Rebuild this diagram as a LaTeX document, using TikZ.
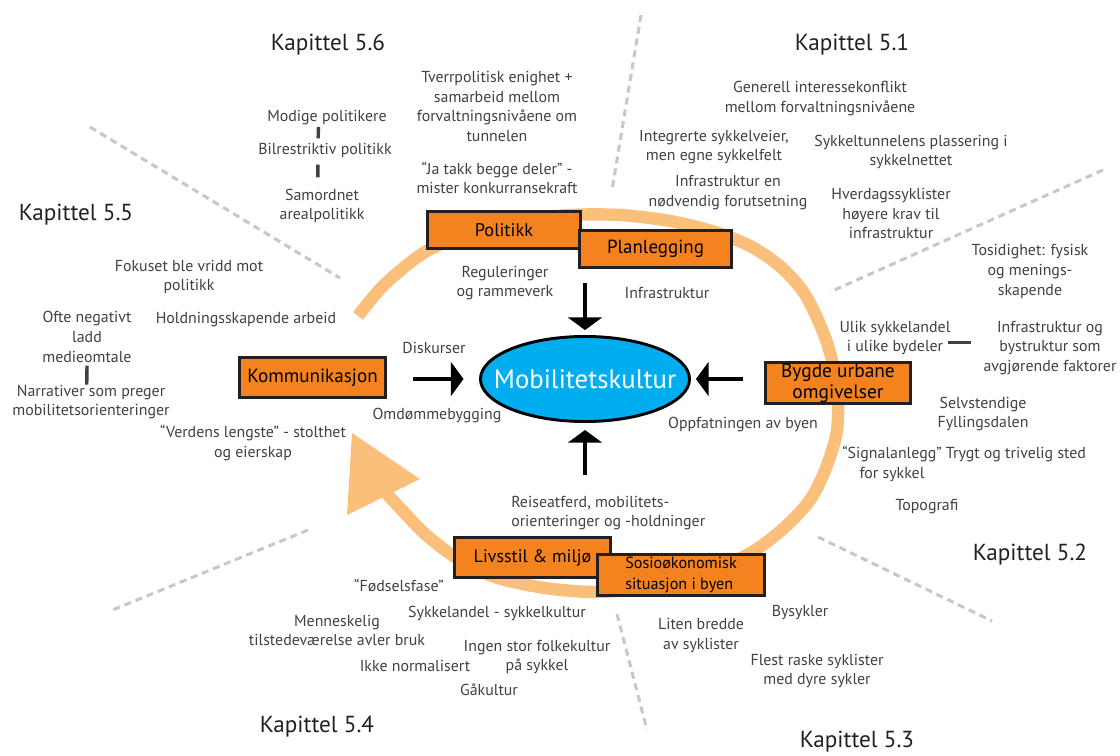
\documentclass[tikz,border=0pt]{standalone}
\usepackage{fontspec}
\setmainfont{PT Sans}
\usetikzlibrary{arrows.meta,shapes.geometric}
\definecolor{boxorange}{HTML}{F3821F}
\definecolor{ringorange}{HTML}{FBBF7C}
\definecolor{mobblue}{HTML}{00AEEF}
\definecolor{txtgrey}{HTML}{414042}
\definecolor{sepgrey}{HTML}{C8C8C8}
\definecolor{kapblack}{HTML}{231F20}

\begin{document}
\begin{tikzpicture}[x=0.025cm, y=-0.025cm]
        \tikzstyle{kap_label} = [font=\fontsize{16.5}{20}\selectfont, text=kapblack, inner sep=0pt]
        \tikzstyle{txt_label} = [font=\fontsize{11.3}{14}\selectfont, text=txtgrey, align=center, inner sep=0pt]
        \tikzstyle{box_node}  = [draw=kapblack, line width=2.1pt, fill=boxorange, text=black, inner sep=0pt, align=center]
        \tikzstyle{mob_node}  = [ellipse, draw=black, line width=2.1pt, fill=mobblue, inner sep=0pt,
                                 minimum width=5.225cm, minimum height=2.125cm]
        \tikzstyle{mob_text}  = [text=white, inner sep=0pt, font=\fontsize{19}{23}\selectfont]
        \tikzstyle{sep_line}  = [draw=sepgrey, line width=2.2pt, dash pattern=on 5pt off 3.5pt]
        \tikzstyle{ring_line} = [draw=ringorange, line width=8.8pt]
        \tikzstyle{flow}      = [-{Triangle[width=24pt, length=9pt]}, line width=2.2pt, draw=black]
        \tikzstyle{bar}       = [draw=txtgrey, line width=2.4pt]

        \useasboundingbox (0,0) rectangle (1120,756);

        % the cycle round the centre
        \draw[ring_line] plot[smooth] coordinates {(358,316) (385,284) (425,252) (470,233) (520,221) (570,215)
          (620,215) (670,221) (715,232) (752,247) (782,268) (806,296) (826,340) (837,385) (837,430) (826,468)
          (810,500) (785,527) (757,549) (725,566) (690,579) (645,588) (595,592) (545,588) (495,577) (455,557)
          (424,533) (400,508) (385,492)};
        \fill[ringorange] (352,433) -- (420,479) -- (347,515) -- cycle;

        % chapter borders
        \draw[sep_line] (641,15)   -- (612,190);
        \draw[sep_line] (90,127)   -- (340,278);
        \draw[sep_line] (1103,170) -- (830,292);
        \draw[sep_line] (818,537)  -- (992,621);
        \draw[sep_line] (308,530)  -- (110,611);
        \draw[sep_line] (617,614)  -- (647,730);

        \node[kap_label] at (328,  45) (k56) {Kapittel 5.6};
        \node[kap_label] at (852,  45) (k51) {Kapittel 5.1};
        \node[kap_label] at (76,  215) (k55) {Kapittel 5.5};
        \node[kap_label] at (1030,555) (k52) {Kapittel 5.2};
        \node[kap_label] at (857, 742) (k53) {Kapittel 5.3};
        \node[kap_label] at (317, 727) (k54) {Kapittel 5.4};

        % boxes
        \node[box_node, minimum width=3.825cm, minimum height=0.925cm, font=\fontsize{13}{15}\selectfont]
              at (504,230) (b_pol) {Politikk};
        \node[box_node, minimum width=3.8cm, minimum height=0.925cm, font=\fontsize{13.5}{15}\selectfont]
              at (655.5,249) (b_plan) {Planlegging};
        \node[box_node, minimum width=3.65cm, minimum height=1.0cm, font=\fontsize{13.6}{15}\selectfont]
              at (312.5,377.5) (b_kom) {Kommunikasjon};
        \node[box_node, minimum width=3.625cm, minimum height=1.025cm, font=\fontsize{13.8}{15}\selectfont]
              at (838,383) (b_bygd) {Bygde urbane\\omgivelser};
        \node[box_node, minimum width=3.9cm, minimum height=1.0cm, font=\fontsize{12.8}{15}\selectfont]
              at (532.5,557.5) (b_liv) {Livsstil \& miljø};
        \node[box_node, minimum width=4.175cm, minimum height=1.025cm, font=\fontsize{11.5}{14.5}\selectfont, align=left]
              at (681,575) (b_sosio) {Sosioøkonomisk\\situasjon i byen};

        \node[mob_node, label={[mob_text]center:Mobilitetskultur}] at (585,379) (mob) {};

        \coordinate (a_top)   at (585,283);
        \coordinate (a_bot)   at (585,475);
        \coordinate (a_left)  at (413,379);
        \coordinate (a_right) at (743,379);

        \draw[flow, shorten >=3.5pt] (a_top)   -- (mob);
        \draw[flow, shorten >=5pt]   (a_bot)   -- (mob);
        \draw[flow, shorten >=11pt]  (a_left)  -- (mob);
        \draw[flow, shorten >=3.5pt] (a_right) -- (mob);

        % labels round the centre
        \node[txt_label] at (505, 283) (t_regul) {Reguleringer\\og rammeverk};
        \node[txt_label] at (667, 293) (t_infra) {Infrastruktur};
        \node[txt_label] at (434, 348) (t_disk)  {Diskurser};
        \node[txt_label] at (437, 416) (t_omd)   {Omdømmebygging};
        \node[txt_label] at (743, 425) (t_oppf)  {Oppfatningen av byen};
        \node[txt_label, align=left, anchor=west] at (511, 513) (t_reise) {Reiseatferd, mobilitets-\\orienteringer og -holdninger};

        % kapittel 5.6
        \node[txt_label] at (327, 118) (t_modige)  {Modige politikere};
        \node[txt_label] at (325, 150) (t_bilr)    {Bilrestriktiv politikk};
        \node[txt_label] at (322, 206) (t_samord)  {Samordnet\\arealpolitikk};
        \node[txt_label] at (497, 106.5) (t_tverr) {Tverrpolitisk enighet +\\samarbeid mellom\\forvaltningsnivåene om\\tunnelen};
        \node[txt_label] at (497, 178) (t_jatakk)  {“Ja takk begge deler” -\\mister konkurransekraft};

        \draw[bar, shorten <=1pt, shorten >=3pt] ([xshift=-6pt]t_modige.south) -- ([xshift=-5pt]t_bilr.north);
        \draw[bar, shorten <=5pt, shorten >=8pt] ([xshift=-5pt]t_bilr.south)   -- ([xshift=-3pt]t_samord.north);

        % kapittel 5.1
        \node[txt_label] at (820,  98.5) (t_generell) {Generell interessekonflikt\\mellom forvaltningsnivåene};
        \node[txt_label] at (714, 147)   (t_integr)   {Integrerte sykkelveier,\\men egne sykkelfelt};
        \node[txt_label] at (911, 152)   (t_tunnel)   {Sykkeltunnelens plassering i\\sykkelnettet};
        \node[txt_label] at (728, 192.5) (t_infnodv)  {Infrastruktur en\\nødvendig forutsetning};
        \node[txt_label] at (891, 213.5) (t_hverdag)  {Hverdagssyklister\\høyere krav til\\infrastruktur};

        % kapittel 5.2
        \node[txt_label] at (1030, 271.5) (t_tosid)   {Tosidighet: fysisk\\og menings-\\skapende};
        \node[txt_label] at (895, 338)    (t_ulik)    {Ulik sykkelandel\\i ulike bydeler};
        \node[txt_label] at (1050, 348)   (t_infbyst) {Infrastruktur og\\bystruktur som\\avgjørende faktorer};
        \node[txt_label] at (983, 414)    (t_selvst)  {Selvstendige\\Fyllingsdalen};
        \node[txt_label] at (892, 464)    (t_signal)  {“Signalanlegg”\\for sykkel};
        \node[txt_label] at (1016, 455)   (t_trygt)   {Trygt og trivelig sted};
        \node[txt_label] at (927, 507)    (t_topo)    {Topografi};

        \draw[bar, shorten <=-2pt, shorten >=9pt] ([yshift=-3pt]t_ulik.east) -- ([yshift=-3pt]t_ulik.east -| t_infbyst.west);

        % kapittel 5.3
        \node[txt_label] at (701, 635.5) (t_liten) {Liten bredde\\av syklister};
        \node[txt_label] at (800, 612)   (t_bysyk) {Bysykler};
        \node[txt_label] at (817, 671)   (t_flest) {Flest raske syklister\\med dyre sykler};

        % kapittel 5.4
        \node[txt_label] at (399, 585)   (t_fodsel) {“Fødselsfase”};
        \node[txt_label] at (337, 630.5) (t_menn)   {Menneskelig\\tilstedeværelse avler bruk};
        \node[txt_label] at (497, 613)   (t_sykand) {Sykkelandel - sykkelkultur};
        \node[txt_label] at (415, 666)   (t_ikke)   {Ikke normalisert};
        \node[txt_label] at (537, 657)   (t_ingen)  {Ingen stor folkekultur\\på sykkel};
        \node[txt_label] at (489, 690)   (t_gaa)    {Gåkultur};

        % kapittel 5.5
        \node[txt_label] at (189, 277) (t_fokus)   {Fokuset ble vridd mot\\politikk};
        \node[txt_label] at (246, 320) (t_holdn)   {Holdningsskapende arbeid};
        \node[txt_label] at (87, 337)  (t_ofte)    {Ofte negativt\\ladd\\medieomtale};
        \node[txt_label] at (91, 402)  (t_narr)    {Narrativer som preger\\mobilitetsorienteringer};
        \node[txt_label] at (253, 443) (t_verdens) {“Verdens lengste” - stolthet\\og eierskap};

        \draw[bar, shorten <=2pt, shorten >=0pt] (t_ofte.south) -- ([xshift=-3pt]t_narr.north);
      \end{tikzpicture}
\end{document}
